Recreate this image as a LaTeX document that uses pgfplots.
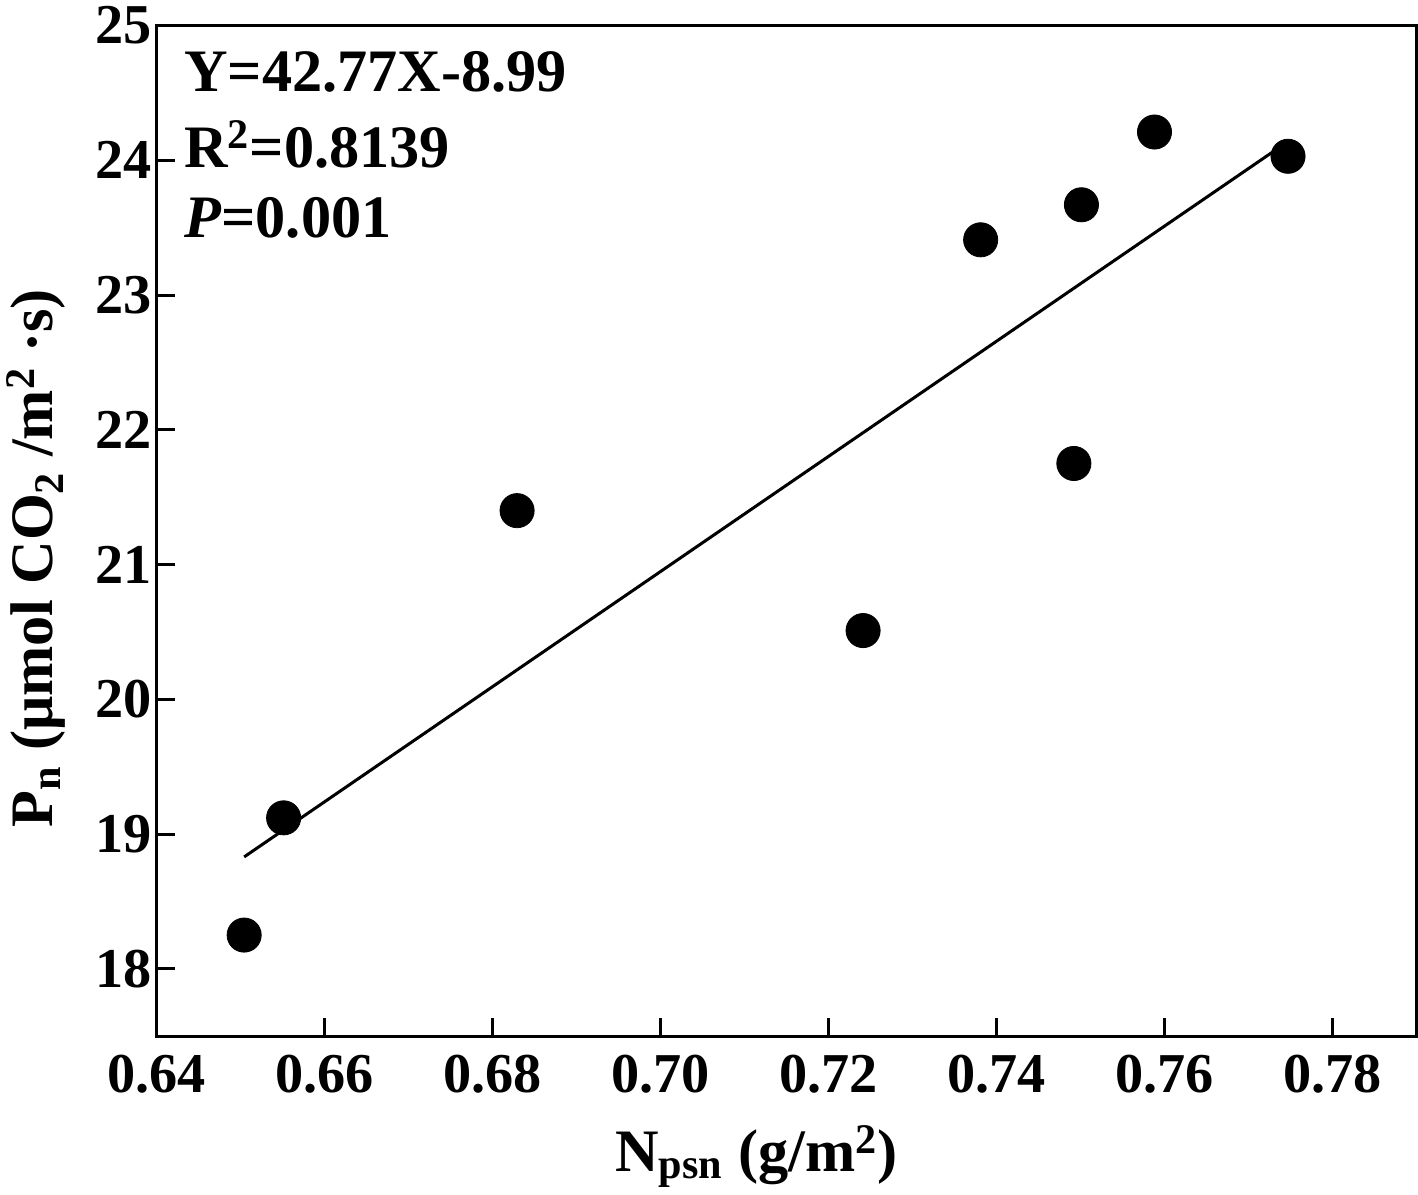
\documentclass[border=0pt]{standalone}
\usepackage{pgfplots}
\pgfplotsset{compat=1.18}
\usepackage{fontspec}
\setmainfont{Liberation Serif}
\begin{document}
\begin{tikzpicture}
\begin{axis}[
  scale only axis,
  width=627pt, height=503pt,
  xmin=0.64, xmax=0.79, ymin=17.5, ymax=25,
  xtick={0.64,0.66,...,0.78},
  ytick={18,19,...,25},
  xticklabel style={/pgf/number format/fixed,/pgf/number format/fixed zerofill,/pgf/number format/precision=2},
  /pgf/number format/assume math mode=true,
  tick label style={font=\fontsize{28}{30}\selectfont\bfseries},
  xticklabel style={yshift=-6pt},
  yticklabel style={xshift=1pt},
  tick align=inside, major tick length=9pt,
  xtick pos=bottom, ytick pos=left,
  axis line style={line width=1.5pt},
  every tick/.style={black, line width=1.5pt},
  xlabel={N\textsubscript{psn} (g/m\textsuperscript{2})},
  ylabel={P\textsubscript{n} (μmol CO\textsubscript{2} /m\textsuperscript{2} ·s)},
  label style={font=\fontsize{30}{32}\selectfont\bfseries},
  xlabel style={at={(ticklabel cs:0.476)}, yshift=-9pt},
  ylabel style={at={(ticklabel cs:0.473)}, yshift=8pt},
  clip=false,
]
\addplot[only marks, mark=*, mark size=8.5pt, black] coordinates {
(0.6504,18.25) (0.6551,19.12) (0.6829,21.40) (0.7241,20.51) (0.7381,23.41)
(0.7492,21.75) (0.7501,23.67) (0.7588,24.21) (0.7747,24.03)
};
\addplot[black, line width=1.5pt] coordinates {(0.6504,18.83) (0.7747,24.14)};
\node[anchor=base west, font=\fontsize{30}{32}\selectfont\bfseries, inner sep=0pt] at (rel axis cs:0.0215,0.935) {Y=42.77X-8.99};
\node[anchor=base west, font=\fontsize{30}{32}\selectfont\bfseries, inner sep=0pt] at (rel axis cs:0.0215,0.860) {R\textsuperscript{2}=0.8139};
\node[anchor=base west, font=\fontsize{30}{32}\selectfont\bfseries, inner sep=0pt] at (rel axis cs:0.0215,0.790) {\textit{P}=0.001};
\end{axis}
\end{tikzpicture}
\end{document}
